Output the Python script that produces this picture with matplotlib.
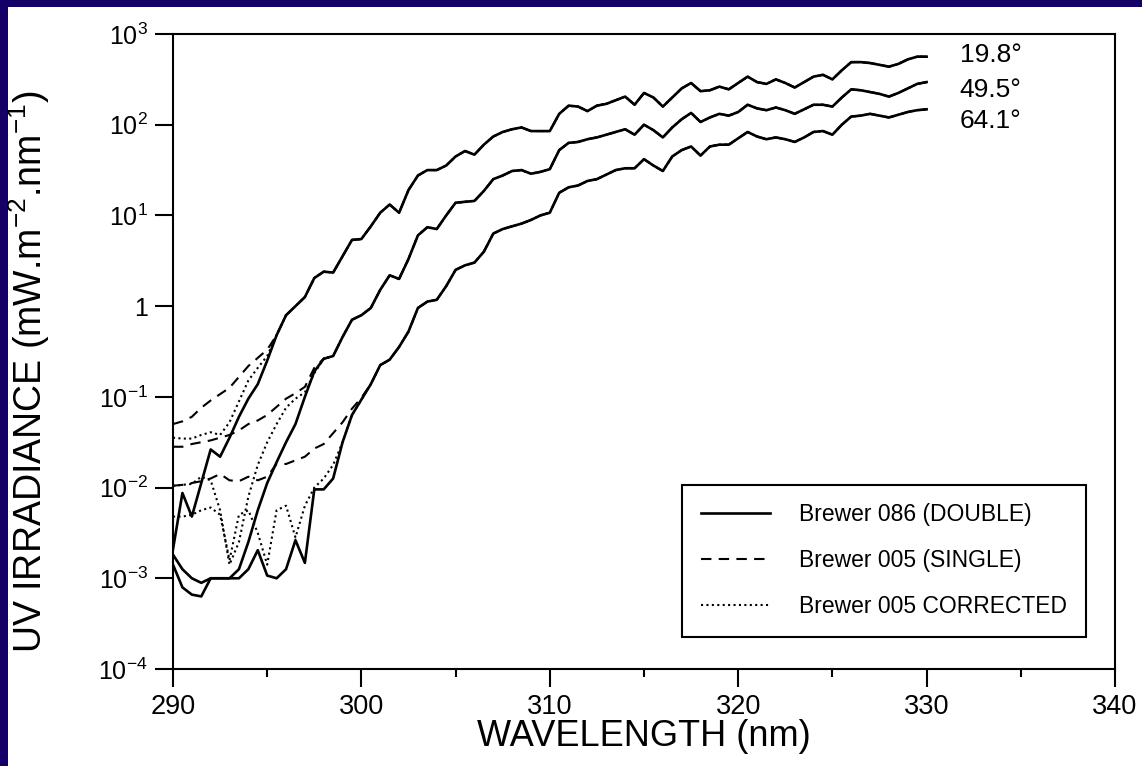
import numpy as np
import matplotlib
matplotlib.use("Agg")
import matplotlib.pyplot as plt
from matplotlib.patches import Rectangle
from matplotlib.ticker import FixedLocator, FixedFormatter, NullLocator, MultipleLocator

plt.rcParams['font.family'] = ['Liberation Sans', 'DejaVu Sans']
plt.rcParams['mathtext.fontset'] = 'custom'
plt.rcParams['mathtext.rm'] = 'Liberation Sans'
plt.rcParams['mathtext.it'] = 'Liberation Sans:italic'
plt.rcParams['mathtext.bf'] = 'Liberation Sans:bold'

NAVY = '#150068'

# wavelength grid (nm), 0.5 nm steps
wavelength = np.arange(290.0, 330.01, 0.5)

# log10 of irradiance (mW m-2 nm-1)
# Brewer 086 (double monochromator), one curve per solar zenith angle
log_double_198 = [
    -2.68, -2.06, -2.32, -1.95, -1.58, -1.66, -1.45, -1.22, -1.02, -0.86,
    -0.60, -0.32, -0.10, 0.00, 0.10, 0.31, 0.38, 0.37, 0.55, 0.73,
    0.74, 0.88, 1.03, 1.12, 1.03, 1.28, 1.44, 1.50, 1.50, 1.55,
    1.65, 1.71, 1.67, 1.78, 1.87, 1.92, 1.95, 1.97, 1.93, 1.93,
    1.93, 2.12, 2.21, 2.20, 2.15, 2.21, 2.23, 2.27, 2.31, 2.22,
    2.35, 2.30, 2.20, 2.30, 2.40, 2.46, 2.37, 2.38, 2.42, 2.39,
    2.46, 2.53, 2.47, 2.45, 2.50, 2.46, 2.41, 2.47, 2.53, 2.55,
    2.50, 2.60, 2.69, 2.69, 2.68, 2.66, 2.64, 2.67, 2.72, 2.75,
    2.75]
log_double_495 = [
    -2.74, -2.90, -3.00, -3.05, -3.00, -3.00, -3.00, -2.90, -2.60, -2.25,
    -1.95, -1.72, -1.50, -1.30, -1.00, -0.72, -0.58, -0.55, -0.34, -0.15,
    -0.10, -0.02, 0.18, 0.34, 0.30, 0.52, 0.78, 0.87, 0.85, 1.00,
    1.14, 1.15, 1.16, 1.27, 1.40, 1.44, 1.49, 1.50, 1.46, 1.48,
    1.51, 1.72, 1.80, 1.81, 1.84, 1.86, 1.89, 1.92, 1.95, 1.89,
    2.00, 1.94, 1.86, 1.97, 2.06, 2.13, 2.03, 2.08, 2.12, 2.10,
    2.14, 2.22, 2.18, 2.16, 2.19, 2.16, 2.12, 2.17, 2.22, 2.22,
    2.20, 2.30, 2.39, 2.38, 2.36, 2.34, 2.31, 2.35, 2.40, 2.45,
    2.47]
log_double_641 = [
    -2.85, -3.10, -3.18, -3.20, -3.00, -3.00, -3.00, -3.00, -2.90, -2.69,
    -2.97, -3.00, -2.90, -2.58, -2.83, -2.02, -2.02, -1.90, -1.50, -1.20,
    -1.03, -0.86, -0.65, -0.59, -0.45, -0.28, -0.02, 0.05, 0.07, 0.22,
    0.40, 0.45, 0.48, 0.60, 0.80, 0.85, 0.88, 0.91, 0.95, 1.00,
    1.03, 1.25, 1.31, 1.33, 1.38, 1.40, 1.45, 1.50, 1.52, 1.52,
    1.62, 1.55, 1.49, 1.65, 1.72, 1.76, 1.66, 1.76, 1.78, 1.78,
    1.85, 1.92, 1.87, 1.84, 1.86, 1.84, 1.81, 1.86, 1.92, 1.93,
    1.89, 2.00, 2.09, 2.10, 2.12, 2.10, 2.08, 2.11, 2.14, 2.16,
    2.17]

# Brewer 005 single / corrected: only the short-wavelength part differs,
# above that the curves lie on the double-monochromator curve
log_single_198_low = [-1.30, -1.27, -1.22, -1.12, -1.04, -0.97, -0.90, -0.78, -0.66, -0.57, -0.48]
log_single_495_low = [-1.55, -1.55, -1.52, -1.50, -1.48, -1.45, -1.42, -1.37, -1.30, -1.26,
                      -1.20, -1.11, -1.02, -0.96, -0.89, -0.68]
log_single_641_low = [-1.98, -1.97, -1.95, -1.93, -1.90, -1.85, -1.92, -1.93, -1.88, -1.92,
                      -1.88, -1.74, -1.74, -1.70, -1.66, -1.57, -1.52, -1.40, -1.28, -1.13, -1.01]
log_corr_198_low = [-1.45, -1.46, -1.46, -1.42, -1.39, -1.42, -1.28, -1.05, -0.82, -0.68, -0.55]
log_corr_495_low = [-1.98, -1.97, -1.96, -1.88, -1.92, -2.25, -2.85, -2.60, -2.10, -1.75,
                    -1.50, -1.30, -1.12, -1.02, -0.95, -0.74]
log_corr_641_low = [-2.32, -2.32, -2.30, -2.25, -2.22, -2.30, -2.80, -2.30, -2.25, -2.50,
                    -2.85, -2.25, -2.20, -2.55, -2.20, -2.00, -1.90, -1.75, -1.50, -1.20, -1.03]

sza_labels = ['19.8°', '49.5°', '64.1°']
legend_labels = ['Brewer 086 (DOUBLE)', 'Brewer 005 (SINGLE)', 'Brewer 005 CORRECTED']
yticks = [1e-4, 1e-3, 1e-2, 1e-1, 1, 1e1, 1e2, 1e3]
ytick_labels = [r'$\mathregular{10^{-4}}$', r'$\mathregular{10^{-3}}$', r'$\mathregular{10^{-2}}$',
                r'$\mathregular{10^{-1}}$', '1', r'$\mathregular{10^{1}}$',
                r'$\mathregular{10^{2}}$', r'$\mathregular{10^{3}}$']


def full_series(low, double):
    # short-wavelength readings, then the part shared with the double curve
    return np.concatenate([low, double[len(low):]])


fig = plt.figure(figsize=(11.42, 7.66), dpi=100)
fig.patch.set_facecolor(NAVY)
fig.add_artist(Rectangle((8 / 1142, 0), 1, 1 - 7 / 766, transform=fig.transFigure,
                         facecolor='white', edgecolor='none', zorder=-5))

ax = fig.add_axes([173 / 1142, 1 - 669 / 766, 942 / 1142, 635 / 766])

groups = [
    (log_double_198, log_single_198_low, log_corr_198_low),
    (log_double_495, log_single_495_low, log_corr_495_low),
    (log_double_641, log_single_641_low, log_corr_641_low),
]

handles = None
for dbl, sgl_low, cor_low in groups:
    dbl = np.array(dbl)
    sgl = full_series(sgl_low, dbl)
    cor = full_series(cor_low, dbl)
    hs, = ax.plot(wavelength, 10 ** sgl, color='black', lw=1.5, ls=(0, (5, 3.5)))
    hc, = ax.plot(wavelength, 10 ** cor, color='black', lw=1.5, ls=(0, (1, 1.6)))
    hd, = ax.plot(wavelength, 10 ** dbl, color='black', lw=1.9)
    if handles is None:
        handles = [hd, hs, hc]

ax.set_yscale('log')
ax.set_xlim(290, 340)
ax.set_ylim(1e-4, 1e3)

ax.yaxis.set_major_locator(FixedLocator(yticks))
ax.yaxis.set_major_formatter(FixedFormatter(ytick_labels))
ax.yaxis.set_minor_locator(NullLocator())
ax.xaxis.set_major_locator(MultipleLocator(10))
ax.xaxis.set_minor_locator(MultipleLocator(5))

ax.tick_params(axis='both', which='major', direction='out', length=13, width=1.5, color='black')
ax.tick_params(axis='x', which='minor', direction='out', length=6, width=1.5)
ax.tick_params(axis='x', which='major', labelsize=19.5, pad=5)
ax.tick_params(axis='y', which='major', labelsize=18, pad=5)
for sp in ax.spines.values():
    sp.set_linewidth(1.5)

ax.set_xlabel('WAVELENGTH (nm)', fontsize=26)
ax.xaxis.set_label_coords(0.5, -0.078)
ax.set_ylabel(r'UV IRRADIANCE (mW.m$^{\mathregular{-2}}$.nm$^{\mathregular{-1}}$)', fontsize=27)
ax.yaxis.set_label_coords(-0.128, 0.468)

for lab, yf in zip(sza_labels, [0.967, 0.912, 0.863]):
    ax.text(0.835, yf, lab, transform=ax.transAxes, fontsize=19, ha='left', va='center')

leg = ax.legend(handles, legend_labels, loc='lower right', bbox_to_anchor=(0.981, 0.033),
                fontsize=16.5, frameon=True, fancybox=False, edgecolor='black', framealpha=1,
                handlelength=3.0, handletextpad=1.3, labelspacing=1.0, borderpad=0.8)
leg.get_frame().set_linewidth(1.5)

fig.savefig('out.png', dpi=100, facecolor=fig.get_facecolor())
